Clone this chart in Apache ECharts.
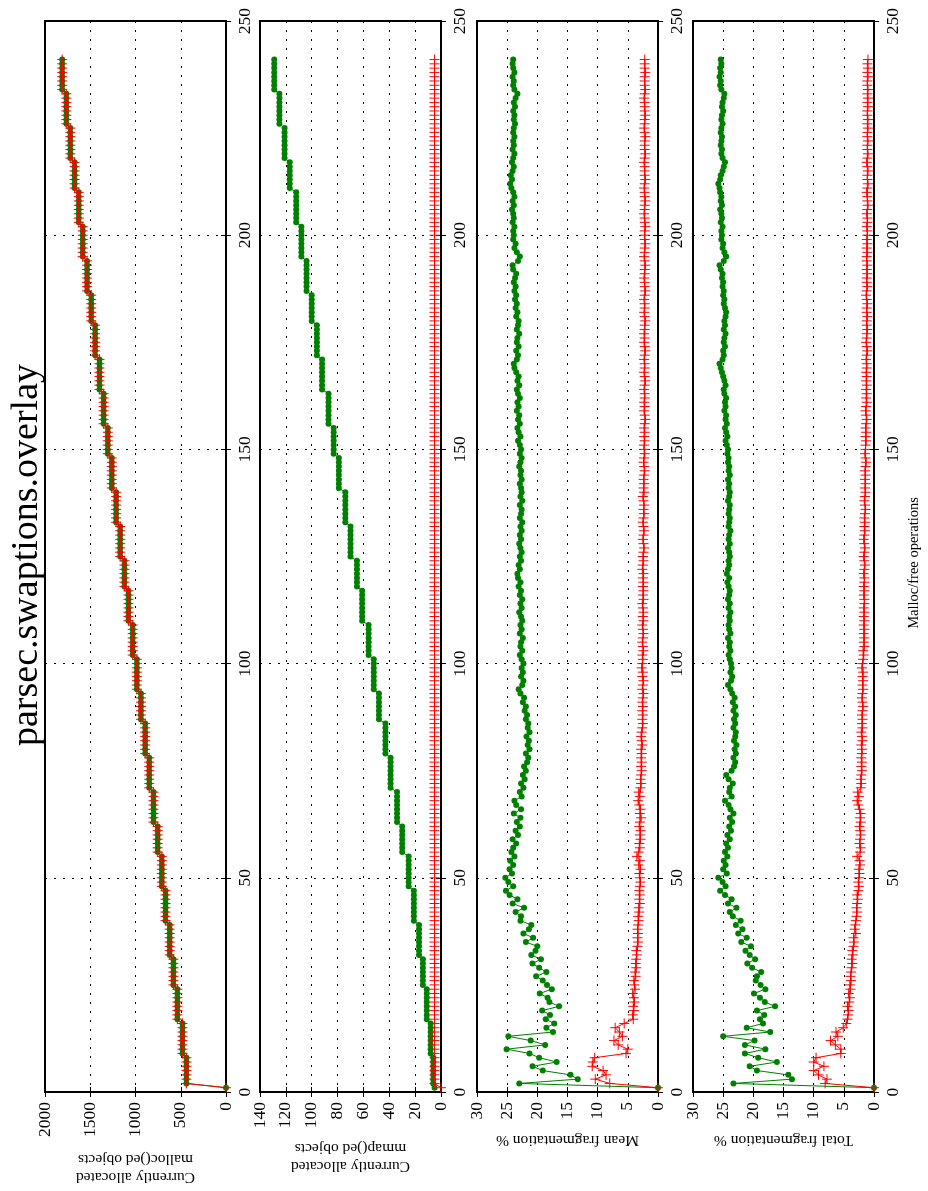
<!DOCTYPE html>
<html>
<head>
<meta charset="utf-8">
<title>parsec.swaptions.overlay</title>
<script src="https://cdn.jsdelivr.net/npm/echarts@6/dist/echarts.min.js"></script>
<style>
  html, body { margin: 0; padding: 0; background: #ffffff; }
  #chart { width: 928px; height: 1191px; }
</style>
</head>
<body>
<div id="chart"></div>
<script>
// Malloc/free operation index runs 1..241; every array below has one value per operation.

// Currently allocated malloc()ed objects (both allocators track the same workload)
const mallocObjects = [
  0, 437, 437, 437, 437, 437, 437, 437, 481, 481,
  481, 481, 481, 481, 481, 481, 537, 537, 537, 537,
  537, 537, 537, 537, 581, 581, 581, 581, 581, 581,
  581, 622, 622, 622, 622, 622, 622, 622, 622, 668,
  668, 668, 668, 668, 668, 668, 668, 709, 709, 709,
  709, 709, 709, 709, 709, 755, 755, 755, 755, 755,
  755, 755, 801, 801, 801, 801, 801, 801, 801, 801,
  848, 848, 848, 848, 848, 848, 848, 848, 893, 893,
  893, 893, 893, 893, 893, 893, 940, 940, 940, 940,
  940, 940, 940, 985, 985, 985, 985, 985, 985, 985,
  985, 1031, 1031, 1031, 1031, 1031, 1031, 1031, 1031, 1078,
  1078, 1078, 1078, 1078, 1078, 1078, 1078, 1122, 1122, 1122,
  1122, 1122, 1122, 1122, 1169, 1169, 1169, 1169, 1169, 1169,
  1169, 1169, 1214, 1214, 1214, 1214, 1214, 1214, 1214, 1214,
  1262, 1262, 1262, 1262, 1262, 1262, 1262, 1262, 1306, 1306,
  1306, 1306, 1306, 1306, 1306, 1352, 1352, 1352, 1352, 1352,
  1352, 1352, 1352, 1398, 1398, 1398, 1398, 1398, 1398, 1398,
  1398, 1446, 1446, 1446, 1446, 1446, 1446, 1446, 1446, 1489,
  1489, 1489, 1489, 1489, 1489, 1489, 1535, 1535, 1535, 1535,
  1535, 1535, 1535, 1535, 1583, 1583, 1583, 1583, 1583, 1583,
  1583, 1583, 1627, 1627, 1627, 1627, 1627, 1627, 1627, 1627,
  1673, 1673, 1673, 1673, 1673, 1673, 1673, 1720, 1720, 1720,
  1720, 1720, 1720, 1720, 1720, 1764, 1764, 1764, 1764, 1764,
  1764, 1764, 1764, 1810, 1810, 1810, 1810, 1810, 1810, 1810,
  1810
];

// Currently allocated mmap()ed objects, green allocator
const mmapDot = [
  5, 6, 6, 6, 6, 6, 6, 6, 8, 8,
  8, 8, 8, 8, 8, 8, 11, 11, 11, 11,
  11, 11, 11, 11, 14, 14, 14, 14, 14, 14,
  14, 17, 17, 17, 17, 17, 17, 17, 17, 21,
  21, 21, 21, 21, 21, 21, 21, 25, 25, 25,
  25, 25, 25, 25, 25, 30, 30, 30, 30, 30,
  30, 30, 34, 34, 34, 34, 34, 34, 34, 34,
  39, 39, 39, 39, 39, 39, 39, 39, 43, 43,
  43, 43, 43, 43, 43, 43, 48, 48, 48, 48,
  48, 48, 48, 52, 52, 52, 52, 52, 52, 52,
  52, 56, 56, 56, 56, 56, 56, 56, 56, 61,
  61, 61, 61, 61, 61, 61, 61, 65, 65, 65,
  65, 65, 65, 65, 70, 70, 70, 70, 70, 70,
  70, 70, 74, 74, 74, 74, 74, 74, 74, 74,
  79, 79, 79, 79, 79, 79, 79, 79, 83, 83,
  83, 83, 83, 83, 83, 87, 87, 87, 87, 87,
  87, 87, 87, 92, 92, 92, 92, 92, 92, 92,
  92, 96, 96, 96, 96, 96, 96, 96, 96, 100,
  100, 100, 100, 100, 100, 100, 104, 104, 104, 104,
  104, 104, 104, 104, 108, 108, 108, 108, 108, 108,
  108, 108, 112, 112, 112, 112, 112, 112, 112, 112,
  117, 117, 117, 117, 117, 117, 117, 121, 121, 121,
  121, 121, 121, 121, 121, 125, 125, 125, 125, 125,
  125, 125, 125, 129, 129, 129, 129, 129, 129, 129,
  129
];

// Currently allocated mmap()ed objects, red allocator
const mmapPlus = [
  0, 5, 5, 5, 5, 5, 5, 5, 5, 5,
  5, 5, 5, 5, 5, 5, 5, 5, 5, 5,
  5, 5, 5, 5, 5, 5, 5, 5, 5, 5,
  5, 5, 5, 5, 5, 5, 5, 5, 5, 5,
  5, 5, 5, 5, 5, 5, 5, 5, 5, 5,
  5, 5, 5, 5, 5, 5, 5, 5, 5, 5,
  5, 5, 5, 5, 5, 5, 5, 5, 5, 5,
  5, 5, 5, 5, 5, 5, 5, 5, 5, 5,
  5, 5, 5, 5, 5, 5, 5, 5, 5, 5,
  5, 5, 5, 5, 5, 5, 5, 5, 5, 5,
  5, 5, 5, 5, 5, 5, 5, 5, 5, 5,
  5, 5, 5, 5, 5, 5, 5, 5, 5, 5,
  5, 5, 5, 5, 5, 5, 5, 5, 5, 5,
  5, 5, 5, 5, 5, 5, 5, 5, 5, 5,
  5, 5, 5, 5, 5, 5, 5, 5, 5, 5,
  5, 5, 5, 5, 5, 5, 5, 5, 5, 5,
  5, 5, 5, 5, 5, 5, 5, 5, 5, 5,
  5, 5, 5, 5, 5, 5, 5, 5, 5, 5,
  5, 5, 5, 5, 5, 5, 5, 5, 5, 5,
  5, 5, 5, 5, 5, 5, 5, 5, 5, 5,
  5, 5, 5, 5, 5, 5, 5, 5, 5, 5,
  5, 5, 5, 5, 5, 5, 5, 5, 5, 5,
  5, 5, 5, 5, 5, 5, 5, 5, 5, 5,
  5, 5, 5, 5, 5, 5, 5, 5, 5, 5,
  5
];

// Mean fragmentation %, green allocator
const meanFragDot = [
  0, 23.0, 13.3, 14.5, 19.1, 20.8, 16.8, 19.7, 21.3, 25.1,
  18.7, 21.1, 24.8, 17.4, 18.5, 17.2, 18.6, 17.9, 19.2, 16.4,
  18.0, 18.3, 19.6, 17.6, 18.4, 19.1, 20.2, 18.5, 19.7, 20.8,
  19.4, 21.0, 20.3, 20.0, 21.9, 20.7, 22.3, 21.4, 21.0, 22.8,
  22.7, 23.6, 22.2, 24.1, 23.3, 24.6, 25.2, 24.0, 24.8, 25.3,
  24.2, 24.6, 24.0, 24.5, 23.8, 24.3, 24.0, 23.5, 24.1, 23.2,
  23.6, 22.9, 23.4, 22.8, 23.9, 22.7, 23.5, 23.8, 22.6, 22.9,
  22.3, 22.7, 22.1, 22.4, 21.9, 22.2, 21.7, 21.5, 21.9, 21.3,
  21.6, 21.4, 21.8, 21.3, 21.6, 21.5, 21.9, 21.7, 22.1, 21.9,
  22.4, 22.2, 22.8, 23.1, 22.5, 22.3, 22.7, 22.4, 22.6, 22.3,
  22.6, 22.9, 22.5, 22.8, 22.7, 22.4, 22.9, 22.6, 22.8, 22.5,
  22.7, 23.0, 22.6, 22.8, 22.5, 22.9, 22.7, 23.1, 22.8, 23.2,
  23.3, 22.9, 23.1, 22.7, 22.9, 22.6, 22.8, 23.0, 22.7, 22.9,
  22.6, 22.8, 22.5, 22.9, 22.7, 22.6, 22.9, 22.5, 22.8, 22.6,
  22.7, 22.9, 22.6, 22.8, 22.7, 23.0, 22.8, 22.6, 22.9, 22.7,
  22.9, 23.2, 22.8, 23.1, 23.3, 22.9, 23.2, 23.0, 23.4, 23.1,
  23.3, 22.9, 23.2, 23.4, 23.0, 23.3, 23.1, 23.5, 23.8, 23.9,
  23.4, 23.2, 23.5, 23.1, 23.4, 23.3, 23.0, 23.4, 23.2, 23.1,
  23.5, 23.3, 23.6, 23.4, 23.7, 23.5, 23.8, 23.6, 23.9, 23.7,
  23.5, 24.0, 24.1, 23.2, 22.9, 23.4, 23.8, 23.6, 24.0, 23.9,
  24.0, 23.8, 24.1, 23.9, 24.0, 24.2, 23.9, 24.1, 23.8, 24.0,
  24.3, 24.5, 24.2, 24.4, 24.1, 23.9, 24.2, 24.0, 23.8, 24.1,
  23.9, 24.0, 23.8, 24.0, 23.9, 23.7, 23.9, 23.8, 24.0, 23.7,
  23.9, 23.6, 23.3, 23.8, 24.0, 23.9, 24.1, 23.8, 24.0, 24.1,
  24.0
];

// Mean fragmentation %, red allocator
const meanFragPlus = [
  0, 8.0, 10.4, 8.6, 9.1, 10.9, 10.8, 10.5, 5.3, 5.0,
  6.6, 7.3, 5.9, 6.4, 7.1, 5.6, 4.1, 4.2, 4.0, 4.1,
  3.9, 4.0, 4.2, 3.8, 3.9, 4.0, 3.7, 3.8, 3.6, 3.7,
  3.6, 3.5, 3.6, 3.4, 3.3, 3.4, 3.3, 3.4, 3.3, 3.2,
  3.3, 3.1, 3.2, 3.0, 3.1, 3.0, 3.1, 3.0, 2.9, 3.0,
  3.1, 2.9, 3.2, 3.0, 3.5, 3.2, 3.0, 3.1, 2.9, 3.0,
  2.9, 3.1, 3.0, 2.8, 3.0, 2.9, 3.1, 3.3, 3.0, 3.2,
  2.9, 2.8, 2.9, 2.8, 2.7, 2.8, 2.7, 2.8, 2.7, 2.8,
  2.6, 2.7, 2.8, 2.7, 2.6, 2.5, 2.6, 2.5, 2.6, 2.5,
  2.6, 2.5, 2.4, 2.6, 2.5, 2.4, 2.6, 2.5, 2.7, 2.6,
  2.5, 2.6, 2.4, 2.5, 2.6, 2.5, 2.4, 2.5, 2.6, 2.4,
  2.5, 2.4, 2.5, 2.6, 2.4, 2.5, 2.4, 2.5, 2.4, 2.5,
  2.4, 2.6, 2.5, 2.4, 2.5, 2.4, 2.3, 2.4, 2.5, 2.4,
  2.3, 2.4, 2.5, 2.4, 2.3, 2.4, 2.3, 2.4, 2.5, 2.3,
  2.4, 2.3, 2.4, 2.3, 2.2, 2.3, 2.4, 2.3, 2.2, 2.3,
  2.3, 2.2, 2.3, 2.2, 2.3, 2.2, 2.1, 2.2, 2.3, 2.2,
  2.3, 2.2, 2.2, 2.3, 2.2, 2.1, 2.2, 2.3, 2.2, 2.2,
  2.3, 2.2, 2.1, 2.2, 2.3, 2.2, 2.3, 2.2, 2.2, 2.1,
  2.2, 2.3, 2.2, 2.2, 2.3, 2.2, 2.1, 2.2, 2.2, 2.3,
  2.2, 2.2, 2.1, 2.2, 2.3, 2.2, 2.2, 2.1, 2.2, 2.2,
  2.2, 2.1, 2.2, 2.2, 2.3, 2.2, 2.2, 2.1, 2.2, 2.2,
  2.3, 2.2, 2.1, 2.2, 2.2, 2.2, 2.3, 2.2, 2.1, 2.2,
  2.2, 2.2, 2.1, 2.2, 2.3, 2.2, 2.2, 2.1, 2.2, 2.2,
  2.2, 2.3, 2.2, 2.1, 2.2, 2.2, 2.2, 2.1, 2.2, 2.2,
  2.2
];

// Total fragmentation %, green allocator
const totalFragDot = [
  0, 23.3, 13.6, 14.2, 19.4, 20.6, 16.1, 19.2, 21.4, 18.0,
  21.4, 19.8, 25.0, 17.2, 21.1, 18.4, 18.9, 18.2, 19.4, 16.4,
  18.1, 18.9, 19.9, 18.0, 18.8, 19.6, 19.4, 18.7, 20.2, 21.0,
  19.7, 20.6, 21.3, 20.4, 22.0, 21.1, 22.5, 21.8, 22.9, 22.1,
  23.4, 23.9, 22.8, 24.2, 23.6, 24.7, 25.5, 24.6, 25.1, 25.8,
  24.4, 25.0, 24.6, 24.9, 24.3, 24.7, 24.2, 24.5, 23.9, 24.3,
  23.7, 24.0, 23.5, 23.9, 23.3, 23.8, 24.1, 24.7, 23.6, 24.0,
  23.9, 23.4, 24.1, 24.5, 23.6, 23.2, 23.0, 23.3, 22.9, 23.1,
  22.8, 23.2, 23.0, 22.9, 23.3, 23.0, 23.2, 22.9, 23.3, 23.0,
  23.4, 23.1, 23.5, 23.8, 24.2, 23.7, 23.5, 23.8, 23.6, 23.7,
  23.9, 24.1, 23.8, 24.0, 23.9, 24.2, 23.8, 24.0, 24.1, 23.9,
  24.0, 23.8, 24.1, 23.9, 24.2, 24.0, 23.9, 24.1, 24.3, 24.0,
  24.4, 24.2, 24.0, 24.1, 23.9, 24.0, 24.2, 23.9, 24.1, 24.0,
  23.8, 24.1, 24.0, 23.9, 24.1, 24.0, 23.9, 24.2, 24.0, 23.9,
  24.1, 24.0, 24.2, 23.9, 24.1, 24.0, 24.2, 24.1, 24.3, 24.2,
  24.4, 24.6, 24.3, 24.5, 24.7, 24.4, 24.6, 24.5, 24.8, 24.6,
  24.7, 24.5, 24.8, 24.9, 24.6, 24.8, 25.0, 25.2, 25.4, 25.6,
  25.1, 24.9, 25.0, 24.7, 24.9, 24.8, 24.6, 24.9, 24.7, 24.8,
  24.6, 24.5, 24.7, 24.9, 24.8, 25.0, 24.9, 25.1, 25.0, 25.2,
  25.1, 25.4, 25.6, 24.9, 24.5, 24.8, 25.1, 25.0, 25.3, 25.2,
  25.3, 25.1, 25.4, 25.2, 25.3, 25.5, 25.2, 25.4, 25.3, 25.5,
  25.6, 25.8, 25.5, 25.4, 25.1, 24.9, 24.7, 25.1, 25.3, 25.2,
  25.4, 25.3, 25.2, 25.4, 25.3, 25.1, 25.3, 25.2, 25.0, 25.2,
  25.1, 24.9, 24.8, 25.3, 25.5, 25.4, 25.6, 25.4, 25.5, 25.3,
  25.4
];

// Total fragmentation %, red allocator
const totalFragPlus = [
  0, 8.1, 7.8, 9.2, 10.0, 8.3, 10.0, 9.6, 5.5, 5.5,
  6.4, 7.2, 6.0, 6.3, 5.1, 4.6, 4.4, 4.3, 4.2, 4.4,
  4.1, 4.0, 4.2, 3.9, 4.0, 3.8, 3.9, 3.8, 3.7, 3.6,
  3.7, 3.5, 3.6, 3.4, 3.3, 3.4, 3.0, 3.2, 3.1, 3.0,
  2.9, 2.8, 2.9, 2.8, 2.7, 2.8, 2.6, 2.5, 2.6, 2.5,
  2.4, 2.5, 2.3, 2.4, 2.8, 2.3, 2.2, 2.4, 2.3, 2.2,
  2.3, 2.4, 2.2, 2.3, 2.2, 2.4, 2.6, 2.8, 2.5, 2.7,
  2.2, 2.1, 2.2, 2.1, 2.0, 2.1, 2.0, 2.1, 2.0, 2.0,
  2.1, 1.9, 2.0, 2.1, 1.9, 2.0, 1.9, 2.0, 1.9, 1.8,
  1.9, 2.0, 1.9, 1.8, 1.9, 1.8, 1.9, 1.8, 2.0, 1.9,
  1.8, 1.7, 1.8, 1.6, 1.7, 1.6, 1.7, 1.6, 1.7, 1.6,
  1.7, 1.6, 1.7, 1.6, 1.6, 1.7, 1.6, 1.7, 1.6, 1.6,
  1.7, 1.6, 1.5, 1.6, 1.7, 1.6, 1.5, 1.6, 1.7, 1.6,
  1.5, 1.6, 1.5, 1.6, 1.5, 1.4, 1.5, 1.6, 1.5, 1.4,
  1.5, 1.4, 1.5, 1.4, 1.5, 1.4, 1.3, 1.4, 1.5, 1.4,
  1.4, 1.3, 1.4, 1.3, 1.4, 1.3, 1.2, 1.3, 1.4, 1.3,
  1.2, 1.3, 1.2, 1.3, 1.2, 1.3, 1.2, 1.3, 1.2, 1.2,
  1.3, 1.2, 1.1, 1.2, 1.3, 1.2, 1.2, 1.1, 1.2, 1.2,
  1.1, 1.2, 1.2, 1.1, 1.2, 1.3, 1.2, 1.1, 1.2, 1.2,
  1.1, 1.2, 1.1, 1.2, 1.2, 1.1, 1.2, 1.1, 1.2, 1.1,
  1.1, 1.2, 1.1, 1.1, 1.2, 1.1, 1.0, 1.1, 1.1, 1.2,
  1.1, 1.0, 1.1, 1.1, 1.0, 1.1, 1.2, 1.1, 1.0, 1.1,
  1.1, 1.0, 1.1, 1.1, 1.0, 1.1, 1.0, 1.1, 1.1, 1.0,
  1.1, 1.0, 1.1, 1.0, 1.1, 1.1, 1.0, 1.1, 1.0, 1.1,
  1.0
];

// Axis ranges of the four panels (value axes run right-to-left, 0 at the right)
const panelTitles = [
  'Currently allocated\nmalloc()ed objects',
  'Currently allocated\nmmap()ed objects',
  'Mean fragmentation %',
  'Total fragmentation %'
];
const valueMax = [2000, 140, 30, 30];
const valueStep = [500, 20, 5, 5];
const opMax = 250;
const opStep = 50;

const chartTitle = 'parsec.swaptions.overlay';
const opAxisTitle = 'Malloc/free operations';

// ---- layout and styling ----
const GREEN = '#008000';
const RED = '#ff0000';
const FONT = '"Liberation Serif", "DejaVu Serif", serif';
const gridLeft = [45, 260, 477, 693];
const gridTop = 21;
const gridWidth = 181;
const gridHeight = 1071;
const nameY = [1168, 1157.5, 1140, 1140];

const panelData = [
  [mallocObjects, mallocObjects],
  [mmapDot, mmapPlus],
  [meanFragDot, meanFragPlus],
  [totalFragDot, totalFragPlus]
];

const opIndex = mallocObjects.map((_, k) => k + 1);
const dotted = { color: '#000', width: 1, type: [2, 7] };
const tick = { show: true, inside: true, length: 5, lineStyle: { color: '#000', width: 1 } };
const plainNumber = (v) => String(v);

const grid = [], xAxis = [], yAxis = [], series = [], graphic = [];

for (let i = 0; i < 4; i++) {
  grid.push({
    left: gridLeft[i], top: gridTop, width: gridWidth, height: gridHeight,
    show: true, borderColor: '#000', borderWidth: 2, backgroundColor: 'transparent'
  });
  // value axis with labels below the panel
  xAxis.push({
    gridIndex: i, type: 'value', position: 'bottom', inverse: true,
    min: 0, max: valueMax[i], interval: valueStep[i],
    axisLine: { show: false }, axisTick: tick,
    axisLabel: {
      rotate: 90, margin: 10, color: '#000', fontFamily: FONT, fontSize: 17.5,
      showMinLabel: true, showMaxLabel: true, formatter: plainNumber
    },
    splitLine: { show: true, lineStyle: dotted }
  });
  // mirrored ticks along the top edge
  xAxis.push({
    gridIndex: i, type: 'value', position: 'top', inverse: true,
    min: 0, max: valueMax[i], interval: valueStep[i],
    axisLine: { show: false }, axisTick: tick,
    axisLabel: { show: false }, splitLine: { show: false }
  });
  // operation axis with labels right of the panel
  yAxis.push({
    gridIndex: i, type: 'value', position: 'right',
    min: 0, max: opMax, interval: opStep,
    axisLine: { show: false }, axisTick: tick,
    axisLabel: {
      rotate: 90, margin: 10, color: '#000', fontFamily: FONT, fontSize: 17.5,
      showMinLabel: true, showMaxLabel: true, formatter: plainNumber
    },
    splitLine: { show: true, lineStyle: dotted }
  });
  // mirrored ticks along the left edge
  yAxis.push({
    gridIndex: i, type: 'value', position: 'left',
    min: 0, max: opMax, interval: opStep,
    axisLine: { show: false }, axisTick: tick,
    axisLabel: { show: false }, splitLine: { show: false }
  });

  const [dots, pluses] = panelData[i];
  series.push({
    type: 'line', xAxisIndex: 2 * i, yAxisIndex: 2 * i,
    data: dots.map((v, k) => [v, opIndex[k]]),
    symbol: 'circle', symbolSize: 6, showSymbol: true,
    lineStyle: { color: GREEN, width: 1 },
    itemStyle: { color: GREEN },
    z: 3, silent: true, animation: false
  });
  series.push({
    type: 'line', xAxisIndex: 2 * i, yAxisIndex: 2 * i,
    data: pluses.map((v, k) => [v, opIndex[k]]),
    symbol: 'path://M5,0L5,10M0,5L10,5', symbolSize: 10, showSymbol: true,
    lineStyle: { color: RED, width: 1 },
    itemStyle: { color: RED, borderColor: RED, borderWidth: 1 },
    z: 4, silent: true, animation: false
  });

  // panel quantity name, turned upside down under the panel
  graphic.push({
    type: 'text', x: gridLeft[i] + gridWidth / 2, y: nameY[i], rotation: Math.PI,
    silent: true,
    style: {
      text: panelTitles[i], fill: '#000', font: '15.5px ' + FONT,
      lineHeight: 18, textAlign: 'center', textVerticalAlign: 'middle', align: 'center', verticalAlign: 'middle'
    }
  });
}

graphic.push({
  type: 'text', x: 27, y: 555, rotation: Math.PI / 2, silent: true,
  style: {
    text: chartTitle, fill: '#000', font: '38px ' + FONT,
    textAlign: 'center', textVerticalAlign: 'middle', align: 'center', verticalAlign: 'middle'
  }
});
graphic.push({
  type: 'text', x: 914, y: 563, rotation: Math.PI / 2, silent: true,
  style: {
    text: opAxisTitle, fill: '#000', font: '14.5px ' + FONT,
    textAlign: 'center', textVerticalAlign: 'middle', align: 'center', verticalAlign: 'middle'
  }
});

const chart = echarts.init(document.getElementById('chart'), null, { renderer: 'canvas' });
chart.setOption({
  backgroundColor: '#ffffff',
  animation: false,
  grid, xAxis, yAxis, series, graphic
});
</script>
</body>
</html>
